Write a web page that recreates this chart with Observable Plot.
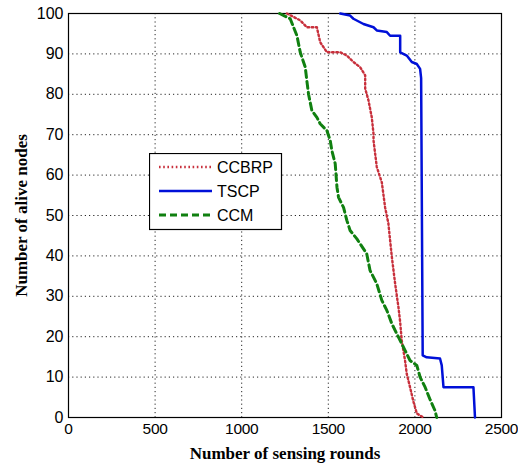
<!DOCTYPE html>
<html>
<head>
<meta charset="utf-8">
<script src="https://cdn.jsdelivr.net/npm/d3@7"></script>
<script src="https://cdn.jsdelivr.net/npm/@observablehq/plot@0.6"></script>
<style>
  html, body { margin: 0; padding: 0; background: #fff; }
  #wrap { position: relative; width: 518px; height: 467px; }
  g[aria-label="x-axis label"] text, g[aria-label="y-axis label"] text {
    font-family: "Liberation Serif", "Times New Roman", serif;
    font-weight: bold; font-size: 17px; fill: #000;
  }
  g[aria-label="x-axis tick label"] text { font-size: 15.5px; letter-spacing: -0.3px; }
  #legend { position: absolute; left: 149px; top: 153px; }
</style>
</head>
<body>
<div id="wrap"></div>
<script>
const seriesNames = ["CCBRP", "TSCP", "CCM"];
const seriesColors = ["#c8303c", "#0010d8", "#108010"];
const xTicks = [0, 500, 1000, 1500, 2000, 2500];
const yTicks = [0, 10, 20, 30, 40, 50, 60, 70, 80, 90, 100];

const ccbrp = [[1261,100],[1338,98.3],[1376,96.6],[1434,96.6],[1453,92.9],[1492,90.4],[1569,90.4],[1607,89.6],[1645,88],[1684,86.7],[1713,84.7],[1713,81.4],[1732,78.5],[1751,74.3],[1761,70.2],[1761,68.6],[1780,62],[1809,58.2],[1828,52],[1847,48],[1857,43.8],[1867,39.7],[1886,33.1],[1905,27.3],[1915,23.6],[1924,19.1],[1943,14.1],[1953,10.8],[1972,7.5],[1991,4],[2011,1],[2049,0]];
const tscp = [[1569,100],[1626,99.5],[1645,98.7],[1703,97.4],[1761,96.6],[1780,95.8],[1838,95.4],[1857,94.5],[1915,94.5],[1915,90.4],[1953,89.6],[1982,88],[2011,87.5],[2030,86.3],[2036,84],[2045,15.4],[2068,14.9],[2145,14.6],[2155,12.9],[2165,7.5],[2338,7.5],[2347,0]];
const ccm = [[1219,100],[1280,98.7],[1319,94.5],[1338,90.4],[1367,86.7],[1376,83.4],[1386,80],[1405,76],[1434,74.3],[1453,72.7],[1492,71],[1511,68.6],[1521,66],[1540,62.8],[1550,57],[1559,54.5],[1588,52],[1607,48.8],[1626,46.3],[1665,44.2],[1684,43],[1722,40.5],[1741,36.4],[1780,33.1],[1809,29],[1838,26.5],[1867,23.2],[1905,19.9],[1943,16.6],[1972,14.1],[2011,12.9],[2030,10],[2059,7.5],[2088,4.4],[2116,1.7],[2126,0]];

const styles = {
  CCBRP: {stroke: seriesColors[0], strokeWidth: 2.4, strokeDasharray: "1.6,2.6"},
  TSCP: {stroke: seriesColors[1], strokeWidth: 2.5},
  CCM: {stroke: seriesColors[2], strokeWidth: 3, strokeDasharray: "7,4"}
};
const dataBy = {CCBRP: ccbrp, TSCP: tscp, CCM: ccm};

const chart = Plot.plot({
  width: 518, height: 467,
  marginTop: 13, marginBottom: 50, marginLeft: 68, marginRight: 17,
  style: {fontFamily: "'Liberation Sans', Arial, sans-serif", fontSize: "16px", color: "#000", background: "#fff"},
  x: {domain: [0, 2500], ticks: xTicks},
  y: {domain: [0, 100], ticks: yTicks},
  marks: [
    Plot.gridX(xTicks.slice(1, -1), {stroke: "#000", strokeOpacity: 0.85, strokeDasharray: "1.2,3"}),
    Plot.gridY(yTicks.slice(1, -1), {stroke: "#000", strokeOpacity: 0.85, strokeDasharray: "1.2,3"}),
    Plot.axisX({ticks: xTicks, tickFormat: d => String(d), tickSize: 0, tickPadding: 5, label: "Number of sensing rounds", labelAnchor: "center", labelArrow: "none", labelOffset: 41}),
    Plot.axisY({ticks: yTicks, tickFormat: d => String(d), tickSize: 0, tickPadding: 5, label: "Number of alive nodes", labelAnchor: "center", labelArrow: "none", labelOffset: 54}),
    Plot.frame({stroke: "#000", strokeWidth: 1.2}),
    ...seriesNames.map(n => Plot.line(dataBy[n], {x: d => d[0], y: d => d[1], ...styles[n]}))
  ]
});
document.getElementById("wrap").appendChild(chart);

// legend
const lg = d3.select("#wrap").append("svg").attr("id", "legend").attr("width", 134).attr("height", 78);
lg.append("rect").attr("x", 0.5).attr("y", 0.5).attr("width", 132).attr("height", 76).attr("fill", "#fff").attr("stroke", "#000").attr("stroke-width", 1.2);
seriesNames.forEach((n, i) => {
  const y = 14 + i * 24;
  const s = styles[n];
  lg.append("line").attr("x1", 10).attr("x2", 63).attr("y1", y).attr("y2", y)
    .attr("stroke", s.stroke).attr("stroke-width", s.strokeWidth)
    .attr("stroke-dasharray", s.strokeDasharray || null);
  lg.append("text").attr("x", 68).attr("y", y).attr("dy", "0.35em")
    .attr("font-family", "'Liberation Sans', Arial, sans-serif").attr("font-size", 16)
    .text(n);
});
</script>
</body>
</html>
